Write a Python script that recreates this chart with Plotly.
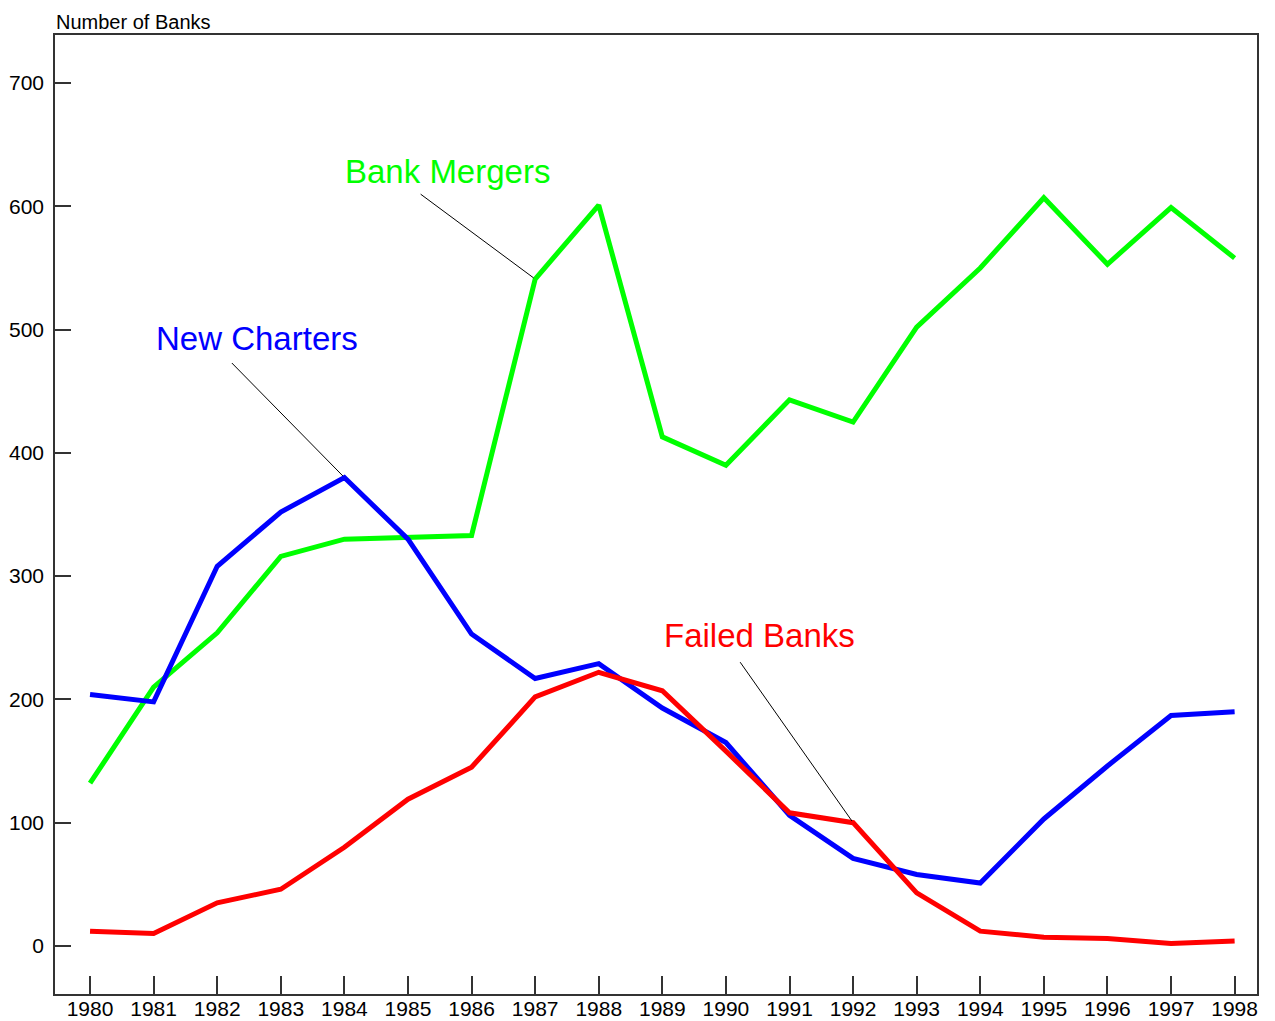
import plotly.graph_objects as go

years = list(range(1980, 1999))
bank_mergers = [132, 210, 254, 316, 330, 331, 333, 541, 601, 413, 390, 443, 425, 502, 550, 607, 553, 599, 558]
new_charters = [204, 198, 308, 352, 380, 330, 253, 217, 229, 193, 165, 106, 71, 58, 51, 103, 146, 187, 190]
failed_banks = [12, 10, 35, 46, 80, 119, 145, 202, 222, 207, 158, 108, 100, 43, 12, 7, 6, 2, 4]
y_ticks = [0, 100, 200, 300, 400, 500, 600, 700]

FONT = "Liberation Sans, Arial, Helvetica, sans-serif"

fig = go.Figure()
fig.add_trace(go.Scatter(x=years, y=bank_mergers, mode="lines", name="Bank Mergers",
                         line=dict(color="#00ff00", width=5)))
fig.add_trace(go.Scatter(x=years, y=new_charters, mode="lines", name="New Charters",
                         line=dict(color="#0000ff", width=5)))
fig.add_trace(go.Scatter(x=years, y=failed_banks, mode="lines", name="Failed Banks",
                         line=dict(color="#ff0000", width=5)))

# label annotations: (text, color, index, series, text offset px, leader tail offset px)
labels = [
    ("Bank Mergers", "#00ff00", 7, bank_mergers, (-88, -108), (-116, -86)),
    ("New Charters", "#0000ff", 4, new_charters, (-87, -139), (-114, -116)),
    ("Failed Banks", "#ff0000", 12, failed_banks, (-94, -187), (-114, -162)),
]
for text, color, idx, series, (tx, ty), (lx, ly) in labels:
    fig.add_annotation(x=years[idx], y=series[idx], xref="x", yref="y", text="",
                       showarrow=True, arrowhead=0, arrowwidth=1, arrowcolor="black",
                       ax=lx, ay=ly, axref="pixel", ayref="pixel", standoff=2)
    fig.add_annotation(x=years[idx], y=series[idx], xref="x", yref="y", text=text,
                       showarrow=False, xshift=tx, yshift=-ty,
                       font=dict(family=FONT, size=33, color=color))

fig.add_annotation(x=0, y=1, xref="paper", yref="paper", xanchor="left", yanchor="bottom",
                   text="Number of Banks", showarrow=False, yshift=1, borderpad=0,
                   font=dict(family=FONT, size=20, color="black"))

fig.update_layout(
    width=1267, height=1013,
    margin=dict(l=47, r=18, t=27, b=27, autoexpand=False),
    paper_bgcolor="white", plot_bgcolor="white",
    showlegend=False,
    font=dict(family=FONT, size=21, color="black"),
    xaxis=dict(range=[1979.449, 1998.352], tickmode="array", tickvals=years,
               ticktext=[str(y) for y in years], ticks="inside", ticklen=18,
               tickcolor="#333", tickwidth=1.5, showline=True, linecolor="#333", linewidth=1.5,
               mirror=True, showgrid=False, zeroline=False, tickfont=dict(size=21),
               ticklabelstandoff=-5, automargin=False),
    yaxis=dict(range=[-39, 739], tickmode="array", tickvals=y_ticks,
               ticks="inside", ticklen=16, tickcolor="#333", tickwidth=1.5,
               showline=True, linecolor="#333", linewidth=1.5, mirror=True,
               showgrid=False, zeroline=False, tickfont=dict(size=21), ticklabelstandoff=5,
               automargin=False),
)

fig.write_html("out.html")
